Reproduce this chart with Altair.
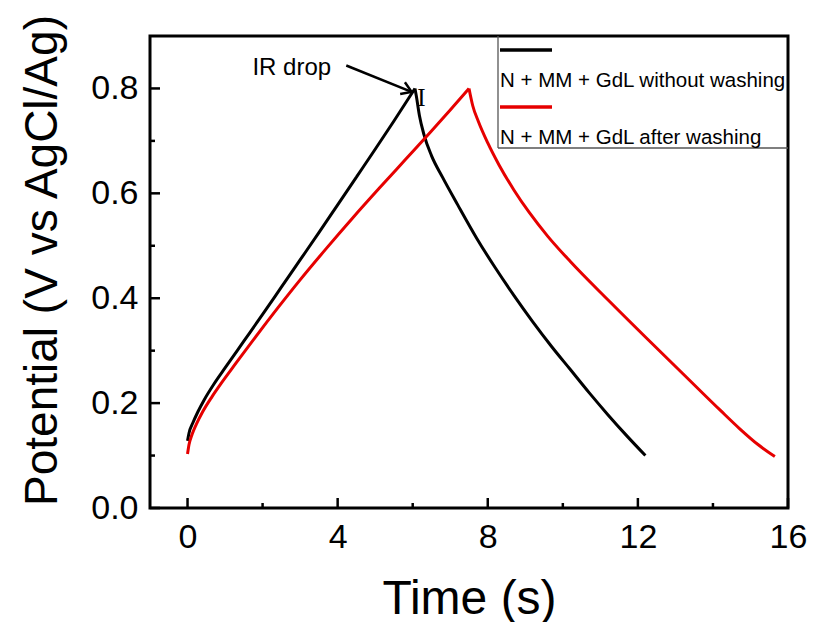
import altair as alt
import pandas as pd

# ---- data ----
# charge (rising) and discharge (falling) branches of each curve
black_up_t = [0.0, 0.04, 0.14, 0.28, 0.45, 0.7, 1.0, 1.5, 2.0, 2.5, 3.0, 3.5, 4.0, 4.5, 5.0, 5.5, 6.06]
black_up_v = [0.128, 0.143, 0.162, 0.184, 0.207, 0.236, 0.267, 0.318, 0.369, 0.421, 0.473, 0.525, 0.578, 0.631, 0.684, 0.738, 0.800]
black_dn_t = [6.06, 6.10, 6.18, 6.3, 6.5, 6.8, 7.2, 7.7, 8.2, 8.7, 9.2, 9.7, 10.2, 10.7, 11.2, 11.7, 12.2]
black_dn_v = [0.800, 0.784, 0.748, 0.712, 0.672, 0.630, 0.578, 0.515, 0.458, 0.405, 0.355, 0.308, 0.264, 0.220, 0.178, 0.138, 0.100]

red_up_t = [0.0, 0.04, 0.12, 0.23, 0.4, 0.65, 0.9, 1.3, 1.8, 2.4, 3.0, 3.7, 4.4, 5.1, 5.8, 6.5, 7.0, 7.5]
red_up_v = [0.103, 0.121, 0.140, 0.159, 0.183, 0.212, 0.238, 0.277, 0.325, 0.381, 0.435, 0.495, 0.553, 0.609, 0.664, 0.719, 0.759, 0.800]
red_dn_t = [7.5, 7.6, 7.75, 8.0, 8.3, 8.7, 9.1, 9.6, 10.2, 11.2, 12.2, 13.2, 14.2, 14.7, 15.2, 15.65]
red_dn_v = [0.800, 0.767, 0.737, 0.696, 0.654, 0.606, 0.564, 0.518, 0.470, 0.397, 0.326, 0.256, 0.186, 0.152, 0.121, 0.098]

series_names = ["N + MM + GdL without washing", "N + MM + GdL after washing"]
series_colors = ["#000000", "#e60000"]

x_major = [0, 4, 8, 12, 16]
x_minor = [2, 6, 10, 14]
y_major = [0.0, 0.2, 0.4, 0.6, 0.8]
y_minor = [0.1, 0.3, 0.5, 0.7]

ir_text_pos = [1.73, 0.825]
ir_mark_pos = [6.23, 0.781]
arrow_t = [4.23, 5.97]
arrow_v = [0.8438, 0.7935]

W, H = 638, 472
FONT = "Liberation Sans"

rows = []
branches = [
    (series_names[0], "black_up", black_up_t, black_up_v),
    (series_names[0], "black_dn", black_dn_t, black_dn_v),
    (series_names[1], "red_up", red_up_t, red_up_v),
    (series_names[1], "red_dn", red_dn_t, red_dn_v),
]
for name, seg, ts, vs in branches:
    for i, (t, v) in enumerate(zip(ts, vs)):
        rows.append({"series": name, "seg": seg, "idx": i, "t": t, "V": v})
curves = pd.DataFrame(rows)

xscale = alt.Scale(domain=[-1, 16], nice=False, zero=False)
yscale = alt.Scale(domain=[0, 0.9], nice=False, zero=False)

x_axis = alt.Axis(values=x_major, title="Time (s)", labelFont=FONT, labelFontSize=34,
                  labelColor="black", labelPadding=12, ticks=False, tickSize=0, domain=False,
                  grid=False, labelFlush=False, labelOverlap=False,
                  titleFont=FONT, titleFontSize=48, titleFontWeight="normal", titleColor="black",
                  titleBaseline="alphabetic", titleAlign="center", titleX=W / 2, titleY=105)
y_axis = alt.Axis(values=y_major, format=".1f", title="Potential (V vs AgCl/Ag)", labelFont=FONT,
                  labelFontSize=34, labelColor="black", labelPadding=12, ticks=False, tickSize=0,
                  domain=False, grid=False, labelFlush=False, labelOverlap=False,
                  titleFont=FONT, titleFontSize=46, titleFontWeight="normal", titleColor="black",
                  titleBaseline="alphabetic", titleAlign="center", titleAngle=270, titleX=-94, titleY=224)


def X(field="t:Q"):
    return alt.X(field, scale=xscale, axis=x_axis)


def Y(field="V:Q"):
    return alt.Y(field, scale=yscale, axis=y_axis)


lines = alt.Chart(curves).mark_line(strokeWidth=3, interpolate="monotone").encode(
    x=X(), y=Y(),
    color=alt.Color("series:N", scale=alt.Scale(domain=series_names, range=series_colors), legend=None),
    detail="seg:N",
    order="idx:Q",
)

xmaj = alt.Chart(pd.DataFrame({"t": x_major})).mark_rule(color="black", strokeWidth=2.5).encode(
    x=X(), y=alt.value(H), y2=alt.value(H - 10))
xmin = alt.Chart(pd.DataFrame({"t": x_minor})).mark_rule(color="black", strokeWidth=2.5).encode(
    x=X(), y=alt.value(H), y2=alt.value(H - 5))
ymaj = alt.Chart(pd.DataFrame({"V": y_major})).mark_rule(color="black", strokeWidth=2.5).encode(
    y=Y(), x=alt.value(0), x2=alt.value(10))
ymin = alt.Chart(pd.DataFrame({"V": y_minor})).mark_rule(color="black", strokeWidth=2.5).encode(
    y=Y(), x=alt.value(0), x2=alt.value(5))

# annotation: IR drop
ann_df = pd.DataFrame({"t": [ir_text_pos[0]], "V": [ir_text_pos[1]], "label": ["IR drop"]})
ann = alt.Chart(ann_df).mark_text(font=FONT, fontSize=24, align="left", baseline="alphabetic",
                                  color="black").encode(x=X(), y=Y(), text="label:N")
ir_df = pd.DataFrame({"t": [ir_mark_pos[0]], "V": [ir_mark_pos[1]], "label": ["I"]})
ir_mark = alt.Chart(ir_df).mark_text(font="Liberation Serif", fontSize=25, align="center",
                                     baseline="middle", color="black").encode(x=X(), y=Y(), text="label:N")
arrow_df = pd.DataFrame({"t": arrow_t, "V": arrow_v, "o": [0, 1]})
arrow_line = alt.Chart(arrow_df).mark_line(color="black", strokeWidth=2.5).encode(
    x=X(), y=Y(), order="o:Q")
head_df = pd.DataFrame({"t": [arrow_t[1]], "V": [arrow_v[1]]})
arrow_head = alt.Chart(head_df).mark_point(shape="M -1 -0.65 L 0 0 L -1 0.65", filled=False,
                                           strokeWidth=2.5, color="black", size=380, angle=22,
                                           opacity=1).encode(x=X(), y=Y())

# legend box (drawn by hand, as in the reference)
dummy = pd.DataFrame({"d": [0]})
leg_left = alt.Chart(dummy).mark_rule(color="#555555", strokeWidth=1.3).encode(
    x=alt.value(348), y=alt.value(0), y2=alt.value(112))
leg_bottom = alt.Chart(dummy).mark_rule(color="#555555", strokeWidth=1.3).encode(
    x=alt.value(348), x2=alt.value(W), y=alt.value(112))
leg_s1 = alt.Chart(dummy).mark_rule(color=series_colors[0], strokeWidth=3.5).encode(
    x=alt.value(350), x2=alt.value(402), y=alt.value(14))
leg_s2 = alt.Chart(dummy).mark_rule(color=series_colors[1], strokeWidth=3.5).encode(
    x=alt.value(350), x2=alt.value(402), y=alt.value(71))
leg_t1 = alt.Chart(dummy).mark_text(font=FONT, fontSize=20.5, align="left", baseline="middle",
                                    color="black", text=series_names[0]).encode(
    x=alt.value(350), y=alt.value(45))
leg_t2 = alt.Chart(dummy).mark_text(font=FONT, fontSize=20.5, align="left", baseline="middle",
                                    color="black", text=series_names[1]).encode(
    x=alt.value(350), y=alt.value(101.5))

chart = alt.layer(
    lines, xmaj, xmin, ymaj, ymin, ann, ir_mark, arrow_line, arrow_head,
    leg_left, leg_bottom, leg_s1, leg_s2, leg_t1, leg_t2
).properties(
    width=W, height=H,
    autosize=alt.AutoSizeParams(type="none"),
    padding={"left": 150, "top": 36, "right": 25, "bottom": 114},
    background="white",
).configure_view(stroke="black", strokeWidth=3)

chart.save("out.html", embed_options={"renderer": "svg", "actions": False})
